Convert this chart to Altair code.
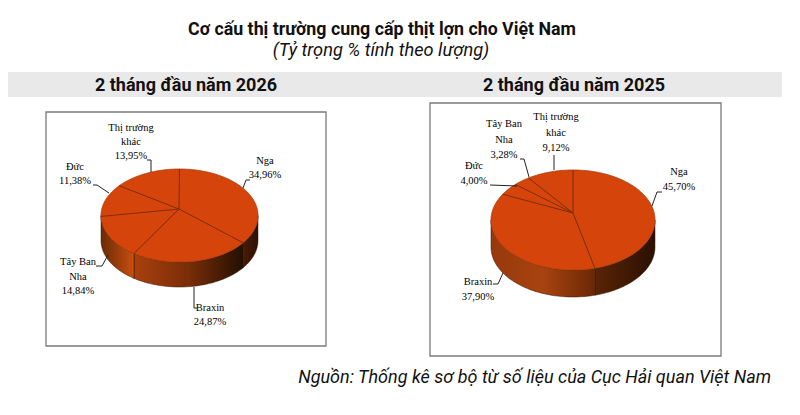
import math
import altair as alt
import pandas as pd

markets_2026 = ["Nga", "Braxin", "Tây Ban Nha", "Đức", "Thị trường khác"]
shares_2026 = [34.96, 24.87, 14.84, 11.38, 13.95]
markets_2025 = ["Nga", "Braxin", "Đức", "Tây Ban Nha", "Thị trường khác"]
shares_2025 = [45.70, 37.90, 4.00, 3.28, 9.12]
title_main = "Cơ cấu thị trường cung cấp thịt lợn cho Việt Nam"
title_sub = "(Tỷ trọng % tính theo lượng)"
panel_titles = ["2 tháng đầu năm 2026", "2 tháng đầu năm 2025"]
source_text = "Nguồn: Thống kê sơ bộ từ số liệu của Cục Hải quan Việt Nam"

W, H = 784, 396
X = dict(scale=alt.Scale(domain=[8, 8 + W], nice=False, zero=False), axis=None)
Y = dict(scale=alt.Scale(domain=[8 + H, 8], nice=False, zero=False), axis=None)
TOP = "#d5450b"
RAY = "#7d2d08"
LEAD = "#222222"
FRAME = "#7a7a7a"


def ex(name="x"):
    return alt.X(f"{name}:Q", **X)


def ey(name="y"):
    return alt.Y(f"{name}:Q", **Y)


def pt(p, deg):
    a = math.radians(deg)
    return p["cx"] + p["rx"] * math.sin(a), p["cy"] - p["ry"] * math.cos(a)


def gradient(c0, c1, c2=None):
    cols = [c0, c1] if c2 is None else [c0, c1, c2]
    stops = [alt.GradientStop(color=c, offset=i / (len(cols) - 1)) for i, c in enumerate(cols)]
    return alt.Gradient(gradient="linear", x1=0, x2=1, y1=0, y2=0, stops=stops)


def pie_layers(p, shares):
    out = []
    # side wall, one piece per visible slice
    for a0, a1, fill in p["wall"]:
        n = 60
        rows = []
        for i in range(n + 1):
            x, y = pt(p, a0 + (a1 - a0) * i / n)
            rows.append({"x": x, "y": y, "y2": y + p["depth"]})
        out.append(
            alt.Chart(pd.DataFrame(rows).sort_values("x"))
            .mark_area(color=fill, stroke="#3a1503", strokeWidth=0.5)
            .encode(x=ex(), y=ey(), y2="y2:Q")
        )
    # top ellipse
    rows = []
    for i in range(241):
        t = math.pi - math.pi * i / 240
        x = p["cx"] + p["rx"] * math.cos(t)
        h = p["ry"] * math.sin(t)
        rows.append({"x": x, "y": p["cy"] - h, "y2": p["cy"] + h})
    out.append(
        alt.Chart(pd.DataFrame(rows))
        .mark_area(color=TOP, stroke="#a83a08", strokeWidth=0.8)
        .encode(x=ex(), y=ey(), y2="y2:Q")
    )
    # slice borders from the shares
    rows, cum = [], 0.0
    for s in shares:
        x, y = pt(p, cum * 3.6)
        rows.append({"x": p["ax"], "y": p["ay"], "x2": x, "y2": y})
        cum += s
    out.append(
        alt.Chart(pd.DataFrame(rows))
        .mark_rule(color=RAY, strokeWidth=1)
        .encode(x=ex(), y=ey(), x2="x2:Q", y2="y2:Q")
    )
    # leaders
    rows = []
    for k, path in enumerate(p["leaders"]):
        for j, (x, y) in enumerate(path):
            rows.append({"x": x, "y": y, "k": k, "o": j})
    out.append(
        alt.Chart(pd.DataFrame(rows))
        .mark_line(color=LEAD, strokeWidth=1)
        .encode(x=ex(), y=ey(), detail="k:N", order="o:Q")
    )
    return out


def fmt(v):
    return f"{v:.2f}".replace(".", ",") + "%"


pie_2026 = dict(
    cx=179.5, cy=215.5, rx=78.5, ry=46.5, ax=179, ay=209, depth=25,
    wall=[
        (90, 125.9, gradient("#4a1c05", "#2b1003")),
        (125.9, 215.4, gradient("#a8400d", "#7a2d08", "#231002")),
        (215.4, 270, gradient("#6b2906", "#c8500f")),
    ],
    leaders=[
        [(243, 188), (246, 180), (250, 180)],
        [(194, 287), (194, 308), (197, 308)],
        [(108, 255), (102, 266), (96, 266)],
        [(109, 193), (97, 185), (93, 185)],
        [(151, 172), (151, 160), (147, 160)],
    ],
)
pie_2025 = dict(
    cx=573, cy=220, rx=82, ry=50, ax=573, ay=213, depth=27,
    wall=[
        (90, 164.5, gradient("#5a2406", "#2a1002")),
        (164.5, 270, gradient("#96390c", "#a8430f", "#6a2806")),
    ],
    leaders=[
        [(652, 206), (657, 192), (662, 192)],
        [(503, 273), (498, 284), (493, 284)],
        [(517, 186), (490, 185)],
        [(529, 177), (524, 159), (520, 159)],
        [(554, 170), (554, 155)],
    ],
)

# label line centres (x, first y, line step) in the same order as the markets
label_pos_2026 = [(265, 161, 14), (210, 308, 14), (78, 262, 14.5), (75, 167, 14), (131, 128, 14)]
label_pos_2025 = [(679, 172, 15), (478, 282, 15), (474, 166, 15), (504, 124, 15.5), (556, 117, 15.5)]
wrap = {"Tây Ban Nha": ["Tây Ban", "Nha"], "Thị trường khác": ["Thị trường", "khác"]}

label_rows = []
for names, vals, pos in [
    (markets_2026, shares_2026, label_pos_2026),
    (markets_2025, shares_2025, label_pos_2025),
]:
    for n, v, (x, y, step) in zip(names, vals, pos):
        for i, line in enumerate(wrap.get(n, [n]) + [fmt(v)]):
            label_rows.append({"x": x, "y": y + i * step, "t": line})

frames = pd.DataFrame(
    [
        {"x": 46, "x2": 326, "y": 112, "y2": 346},
        {"x": 430, "x2": 721, "y": 103, "y2": 356},
    ]
)
band = pd.DataFrame([{"x": 8, "x2": 782, "y": 72, "y2": 97}])


def text(t, x, y, size, weight="normal", style="normal", color="#111111", align="center", font="Roboto"):
    return (
        alt.Chart(pd.DataFrame([{"x": x, "y": y, "t": t}]))
        .mark_text(font=font, fontSize=size, fontWeight=weight, fontStyle=style, color=color,
                   align=align, baseline="middle")
        .encode(x=ex(), y=ey(), text="t:N")
    )


layers = [
    alt.Chart(band).mark_rect(color="#e9e9e9").encode(x=ex(), x2="x2:Q", y=ey(), y2="y2:Q"),
    alt.Chart(frames)
    .mark_rect(fill="white", stroke=FRAME, strokeWidth=1.3)
    .encode(x=ex(), x2="x2:Q", y=ey(), y2="y2:Q"),
    text(title_main, 382, 30, 17.8, weight="bold"),
    text(title_sub, 381, 51, 18.2, style="italic"),
    text(panel_titles[0], 186, 86, 18, weight="bold"),
    text(panel_titles[1], 574, 86, 18, weight="bold"),
    text(source_text, 771, 378, 18, style="italic", align="right"),
]
layers += pie_layers(pie_2026, shares_2026)
layers += pie_layers(pie_2025, shares_2025)
layers.append(
    alt.Chart(pd.DataFrame(label_rows))
    .mark_text(font="Liberation Serif", fontSize=10.5, color="#000000", baseline="middle", align="center")
    .encode(x=ex(), y=ey(), text="t:N")
)

chart = (
    alt.layer(*layers)
    .properties(width=W, height=H, padding=0)
    .configure_view(stroke=None)
)
chart.save("out.html", embed_options={"renderer": "svg", "actions": False})
